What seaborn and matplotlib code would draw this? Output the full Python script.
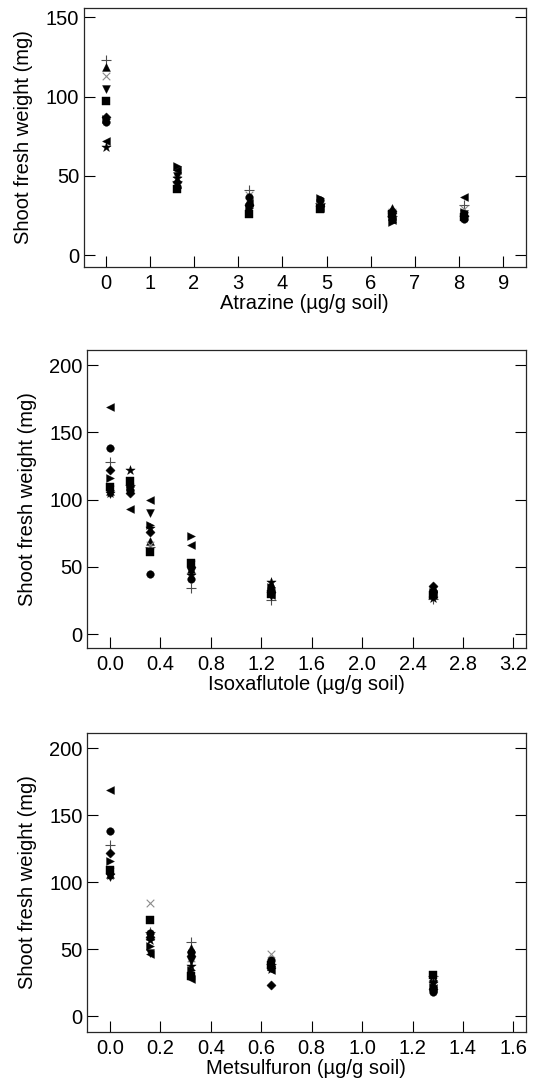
import matplotlib
matplotlib.use("Agg")
import matplotlib.pyplot as plt
import seaborn as sns
import pandas as pd

sns.set_style("ticks")
plt.rcParams['font.family'] = ['Liberation Sans', 'DejaVu Sans']
plt.rcParams['text.color'] = 'black'
plt.rcParams['axes.labelcolor'] = 'black'

# ---------------- data ----------------
series_names = ["plus", "tri_up", "cross", "tri_down", "square", "diamond",
                "circle", "tri_left", "tri_right", "star"]

# Atrazine panel
atr_doses = [0, 1.62, 3.24, 4.86, 6.48, 8.10]
atr_plus = [123, 47, 41, 33, 25, 32]
atr_tri_up = [119, 45, 35, 34, 30, 27]
atr_cross = [113, 52, 38, 31, 27, 29]
atr_tri_down = [105, 50, 29, 30, 24, 26]
atr_square = [97, 42, 26, 29, 26, 24]
atr_diamond = [87, 46, 32, 31, 28, 25]
atr_circle = [84, 43, 37, 35, 23, 23]
atr_tri_left = [72, 54, 33, 30, 22, 37]
atr_tri_right = [86, 56, 30, 36, 21, 27]
atr_star = [68, 49, 31, 32, 26, 24]

# Isoxaflutole panel
iso_doses = [0, 0.16, 0.32, 0.64, 1.28, 2.56]
iso_plus = [128, 111, 65, 34, 25, 26]
iso_tri_up = [106, 112, 69, 48, 37, 34]
iso_cross = [108, 109, 66, 52, 32, 33]
iso_tri_down = [104, 108, 90, 46, 28, 28]
iso_square = [109, 114, 61, 53, 30, 29]
iso_diamond = [122, 105, 76, 50, 31, 36]
iso_circle = [138, 107, 45, 41, 33, 32]
iso_tri_left = [169, 93, 100, 66, 29, 30]
iso_tri_right = [116, 110, 81, 73, 35, 31]
iso_star = [105, 122, 79, 44, 39, 27]

# Metsulfuron panel
met_doses = [0, 0.16, 0.32, 0.64, 1.28]
met_plus = [128, 63, 55, 39, 30]
met_tri_up = [106, 60, 51, 40, 29]
met_cross = [108, 84, 43, 46, 28]
met_tri_down = [104, 47, 41, 36, 24]
met_square = [109, 72, 30, 38, 31]
met_diamond = [122, 59, 45, 23, 20]
met_circle = [138, 62, 48, 42, 18]
met_tri_left = [169, 46, 28, 34, 21]
met_tri_right = [116, 52, 34, 37, 22]
met_star = [105, 57, 37, 35, 25]

xlabels = ["Atrazine (µg/g soil)", "Isoxaflutole (µg/g soil)", "Metsulfuron (µg/g soil)"]
ylabel = "Shoot fresh weight (mg)"
atr_xticks = [0, 1, 2, 3, 4, 5, 6, 7, 8, 9]
iso_xticks = [0.0, 0.4, 0.8, 1.2, 1.6, 2.0, 2.4, 2.8, 3.2]
met_xticks = [0.0, 0.2, 0.4, 0.6, 0.8, 1.0, 1.2, 1.4, 1.6]
atr_yticks = [0, 50, 100, 150]
iso_yticks = [0, 50, 100, 150, 200]
met_yticks = [0, 50, 100, 150, 200]

# ---------------- styling ----------------
marker_map = {"plus": "+", "tri_up": "^", "cross": "x", "tri_down": "v",
              "square": "s", "diamond": "D", "circle": "o", "tri_left": "<",
              "tri_right": ">", "star": "*"}
size_map = {"plus": 50, "tri_up": 32, "cross": 30, "tri_down": 32,
            "square": 28, "diamond": 22, "circle": 30, "tri_left": 32,
            "tri_right": 32, "star": 50}
FS = 14.5


def long_frame(doses, table):
    rows = []
    for name, vals in table.items():
        for d, v in zip(doses, vals):
            rows.append({"dose": d, "weight": v, "series": name})
    return pd.DataFrame(rows)


panels = [
    (atr_doses, {"plus": atr_plus, "tri_up": atr_tri_up, "cross": atr_cross,
                 "tri_down": atr_tri_down, "square": atr_square, "diamond": atr_diamond,
                 "circle": atr_circle, "tri_left": atr_tri_left,
                 "tri_right": atr_tri_right, "star": atr_star},
     atr_xticks, atr_yticks, (-0.5, 9.5), (-7.4, 155.9)),
    (iso_doses, {"plus": iso_plus, "tri_up": iso_tri_up, "cross": iso_cross,
                 "tri_down": iso_tri_down, "square": iso_square, "diamond": iso_diamond,
                 "circle": iso_circle, "tri_left": iso_tri_left,
                 "tri_right": iso_tri_right, "star": iso_star},
     iso_xticks, iso_yticks, (-0.184, 3.30), (-10.4, 211.2)),
    (met_doses, {"plus": met_plus, "tri_up": met_tri_up, "cross": met_cross,
                 "tri_down": met_tri_down, "square": met_square, "diamond": met_diamond,
                 "circle": met_circle, "tri_left": met_tri_left,
                 "tri_right": met_tri_right, "star": met_star},
     met_xticks, met_yticks, (-0.092, 1.65), (-11.9, 211.2)),
]

W, H = 533, 1092
fig = plt.figure(figsize=(W / 100, H / 100), dpi=100)
boxes = [(83.5, 525.5, 8, 267), (86.7, 526, 350, 648), (86.7, 526, 733, 1032)]

for i, ((doses, table, xt, yt, xl, yl), (l, r, t, b)) in enumerate(zip(panels, boxes)):
    ax = fig.add_axes([l / W, 1 - b / H, (r - l) / W, (b - t) / H])
    df = long_frame(doses, table)
    for name in series_names:
        sub = df[df["series"] == name]
        m = marker_map[name]
        if m in ("+", "x"):
            sns.scatterplot(data=sub, x="dose", y="weight", marker=m, s=size_map[name],
                            color="0.3" if m == "+" else "0.55", linewidth=0.8, ax=ax,
                            zorder=3)
        else:
            sns.scatterplot(data=sub, x="dose", y="weight", marker=m, s=size_map[name],
                            color="black", edgecolor="black", linewidth=0.3, ax=ax,
                            zorder=3)
    ax.set_xlim(*xl)
    ax.set_ylim(*yl)
    ax.set_xticks(xt)
    ax.set_yticks(yt)
    if i == 0:
        ax.set_xticklabels([str(v) for v in xt])
    else:
        ax.set_xticklabels([f"{v:.1f}" for v in xt])
    ax.tick_params(axis="both", direction="in", length=8, width=0.8, labelsize=FS,
                   colors="black", top=False, right=True, labelright=False)
    ax.tick_params(axis="x", pad=5)
    ax.tick_params(axis="y", pad=3)
    ax.set_xlabel(xlabels[i], fontsize=FS, labelpad=1, color="black")
    ax.set_ylabel(ylabel, fontsize=FS, labelpad=9, color="black")
    for sp in ax.spines.values():
        sp.set_visible(True)
        sp.set_linewidth(0.9)
        sp.set_color("0.15")

fig.savefig("out.png", dpi=100)
